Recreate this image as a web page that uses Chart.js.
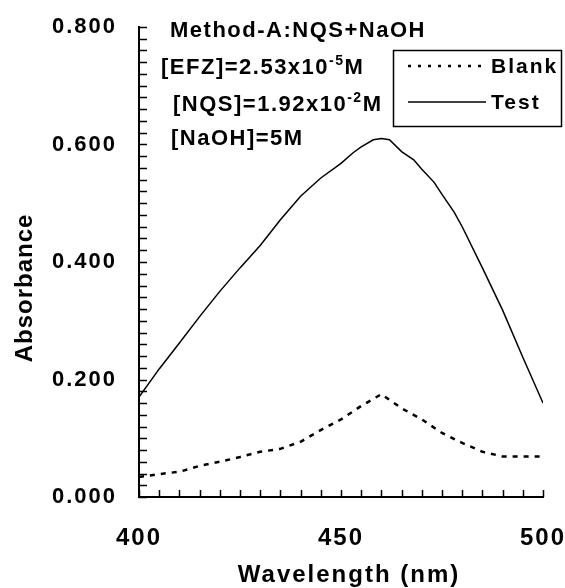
<!DOCTYPE html>
<html>
<head>
<meta charset="utf-8">
<script src="https://cdn.jsdelivr.net/npm/chart.js@4/dist/chart.umd.min.js"></script>
<style>
  html, body { margin: 0; padding: 0; background: #fff; }
  #wrap { width: 565px; height: 588px; }
</style>
</head>
<body>
<div id="wrap"><canvas id="spectra"></canvas></div>
<script>
// Wavelength (nm) and absorbance
var blankWl = [400, 405, 410, 415, 420, 425, 430, 435, 440, 445, 450, 455, 460, 465, 470, 475, 480, 485, 490, 495, 500];
var blankAbs = [0.034, 0.039, 0.043, 0.053, 0.060, 0.068, 0.077, 0.082, 0.094, 0.114, 0.132, 0.155, 0.175, 0.151, 0.132, 0.109, 0.092, 0.077, 0.069, 0.069, 0.069];

var testWl = [400, 405, 410, 415, 420, 425, 430, 435, 440, 445, 450, 453, 455, 458, 460, 462, 465, 468, 470, 473, 475, 478, 480, 485, 490, 495, 500];
var testAbs = [0.170, 0.218, 0.262, 0.307, 0.350, 0.390, 0.428, 0.472, 0.512, 0.543, 0.568, 0.586, 0.596, 0.608, 0.610, 0.608, 0.588, 0.574, 0.558, 0.536, 0.515, 0.485, 0.460, 0.390, 0.318, 0.238, 0.160];

var seriesNames = ['Blank', 'Test'];
var xTitle = 'Wavelength (nm)';
var yTitle = 'Absorbance';
var notes = [
  ['Method-A:NQS+NaOH'],
  ['[EFZ]=2.53x10', '-5', 'M'],
  ['[NQS]=1.92x10', '-2', 'M'],
  ['[NaOH]=5M']
];

function pts(xs, ys) {
  return xs.map(function(x, i) { return {x: x, y: ys[i]}; });
}

var FONT = "'Liberation Sans', Arial, sans-serif";

// minor ticks inside the axes, titles, notes and the boxed legend
var decor = {
  id: 'decor',
  beforeDraw: function(chart) {
    chart.ctx.letterSpacing = '2px';
  },
  afterDraw: function(chart) {
    var ctx = chart.ctx;
    var xs = chart.scales.x, ys = chart.scales.y;
    var a = chart.chartArea;
    ctx.save();
    ctx.strokeStyle = '#000';
    ctx.lineWidth = 1.5;
    ctx.beginPath();
    for (var v = 0; v <= 0.8001; v += 0.02) {
      var py = Math.round(ys.getPixelForValue(v)) + 0.5;
      ctx.moveTo(a.left, py);
      ctx.lineTo(a.left + 8, py);
    }
    for (var w = 400; w <= 500; w += 5) {
      var px = Math.round(xs.getPixelForValue(w)) + 0.5;
      ctx.moveTo(px, a.bottom);
      ctx.lineTo(px, a.bottom - 7);
    }
    ctx.stroke();

    ctx.fillStyle = '#000';
    ctx.textBaseline = 'alphabetic';

    // axis titles
    ctx.letterSpacing = '2px';
    ctx.font = 'bold 24px ' + FONT;
    ctx.textAlign = 'center';
    ctx.fillText(xTitle, 349, 582);
    ctx.save();
    ctx.translate(32, 288);
    ctx.rotate(-Math.PI / 2);
    ctx.letterSpacing = '1px';
    ctx.fillText(yTitle, 0, 0);
    ctx.restore();

    // notes
    ctx.textAlign = 'left';
    ctx.letterSpacing = '1.5px';
    var nx = [170, 161, 173, 171];
    var ny = [37, 74, 111, 145];
    notes.forEach(function(parts, i) {
      var x = nx[i];
      ctx.font = 'bold 22px ' + FONT;
      ctx.fillText(parts[0], x, ny[i]);
      if (parts.length > 1) {
        x += ctx.measureText(parts[0]).width;
        ctx.font = 'bold 14px ' + FONT;
        ctx.fillText(parts[1], x, ny[i] - 9);
        x += ctx.measureText(parts[1]).width;
        ctx.font = 'bold 22px ' + FONT;
        ctx.fillText(parts[2], x, ny[i]);
      }
    });

    // legend
    ctx.lineWidth = 1.5;
    ctx.strokeRect(393.5, 50.5, 168, 76);
    var ly = [66, 102];
    chart.data.datasets.forEach(function(ds, i) {
      ctx.save();
      ctx.lineWidth = ds.borderWidth;
      ctx.setLineDash(i === 0 ? [3, 7] : []);
      ctx.beginPath();
      ctx.moveTo(408, ly[i]);
      ctx.lineTo(486, ly[i]);
      ctx.stroke();
      ctx.restore();
      ctx.font = 'bold 21px ' + FONT;
      ctx.textBaseline = 'middle';
      ctx.letterSpacing = '2px';
      ctx.fillText(ds.label, 491, ly[i] + 1);
    });
    ctx.restore();
  }
};

var chart = new Chart('spectra', {
  type: 'line',
  data: {
    datasets: [
      {
        label: seriesNames[0],
        data: pts(blankWl, blankAbs),
        borderColor: '#000',
        borderWidth: 2.5,
        borderDash: [5, 6],
        pointRadius: 0,
        fill: false,
        tension: 0
      },
      {
        label: seriesNames[1],
        data: pts(testWl, testAbs),
        borderColor: '#000',
        borderWidth: 1.5,
        pointRadius: 0,
        fill: false,
        tension: 0
      }
    ]
  },
  options: {
    responsive: true,
    maintainAspectRatio: false,
    animation: false,
    layout: { padding: { top: 27, right: 22, left: 0, bottom: 0 } },
    plugins: {
      legend: { display: false },
      tooltip: { enabled: false }
    },
    scales: {
      x: {
        type: 'linear',
        min: 400,
        max: 500,
        afterFit: function(s) {
          s.height = 91;
          s.paddingLeft = 0;
          s.paddingRight = 0;
        },
        grid: { drawOnChartArea: false, drawTicks: false },
        border: { color: '#000', width: 2 },
        ticks: {
          stepSize: 50,
          padding: 27,
          color: '#000',
          font: { family: FONT, size: 24, weight: 'bold' }
        }
      },
      y: {
        min: 0,
        max: 0.8,
        afterFit: function(s) {
          s.width = 139;
          s.paddingTop = 0;
          s.paddingBottom = 0;
        },
        grid: { drawOnChartArea: false, drawTicks: false },
        border: { color: '#000', width: 2 },
        ticks: {
          stepSize: 0.2,
          padding: 22,
          color: '#000',
          font: { family: FONT, size: 22, weight: 'bold' },
          callback: function(v) { return v.toFixed(3); }
        }
      }
    }
  },
  plugins: [decor]
});
</script>
</body>
</html>
